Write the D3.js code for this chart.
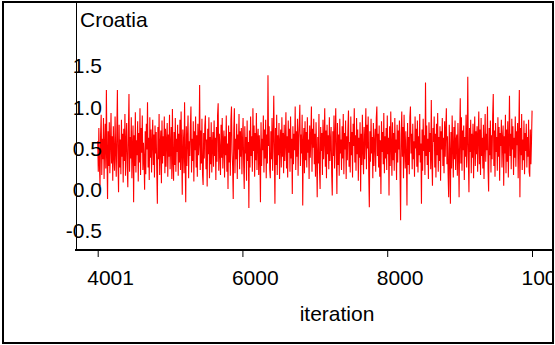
<!DOCTYPE html>
<html>
<head>
<meta charset="utf-8">
<script src="https://cdn.jsdelivr.net/npm/d3@7"></script>
<style>
  html, body { margin: 0; padding: 0; background: #fff; }
  svg { display: block; }
  text { font-family: "Liberation Sans", Arial, Helvetica, sans-serif; fill: #000; }
</style>
</head>
<body>
<svg id="chart" width="555" height="345"></svg>
<script>
// ---- data ----
const title = "Croatia";
const xLabel = "iteration";
const iterStart = 4001;      // first stored iteration
const iterThin = 8;          // iterations between the samples shown
const xTicks = [4001, 6000, 8000, 10000];
const yTicks = [-0.5, 0.0, 0.5, 1.0, 1.5];
const samples = [
  0.58,0.21,0.74,0.30,0.04,0.66,0.90,0.17,0.61,0.36,0.86,0.12,0.52,0.79,0.25,1.20,0.42,-0.12,0.70,0.28,
  0.81,0.19,0.55,0.92,0.31,0.64,0.10,0.76,0.40,0.22,0.88,0.47,0.15,0.69,1.20,0.33,-0.04,0.78,0.26,0.60,
  0.18,0.84,0.39,0.67,0.08,0.73,0.34,0.91,0.16,0.57,0.80,0.27,0.02,0.71,1.15,0.21,0.63,0.37,0.87,0.13,
  0.50,0.77,-0.16,0.65,0.28,0.93,0.20,0.59,0.41,0.82,0.09,0.68,0.32,0.98,0.17,0.74,0.44,0.89,0.23,0.56,
  0.35,-0.01,0.70,0.18,0.79,0.48,1.05,0.26,0.62,0.11,0.87,0.38,0.72,0.20,0.57,0.84,0.29,0.66,0.14,0.77,
  0.43,0.69,0.22,-0.18,0.75,0.36,0.91,0.17,0.54,0.71,0.07,0.83,0.31,0.64,0.40,0.88,0.19,0.73,0.27,0.59,
  0.80,0.15,0.66,0.39,0.90,0.24,0.53,0.75,0.12,0.97,0.35,0.10,0.69,0.29,0.86,0.21,0.61,0.45,0.78,0.16,
  0.67,0.32,0.84,0.23,0.94,0.43,-0.07,0.72,0.55,0.19,1.05,0.37,-0.16,0.76,0.28,0.63,0.89,0.13,0.58,0.40,
  0.74,1.00,0.20,0.61,0.34,0.82,0.09,0.70,0.47,0.88,0.26,0.65,0.15,0.79,0.41,0.57,1.26,0.23,0.71,0.31,
  0.85,0.18,0.05,0.68,0.37,0.77,0.89,0.24,0.60,0.03,0.73,0.42,0.87,0.13,0.63,0.30,0.81,0.20,0.54,0.69,
  0.27,0.83,0.40,0.62,0.11,0.75,0.33,0.90,1.04,0.22,0.67,0.47,0.17,0.78,0.38,0.86,0.25,0.58,0.71,0.14,
  0.64,0.41,0.89,0.21,0.55,0.00,0.77,0.32,0.69,0.16,0.84,1.00,0.45,0.27,-0.12,0.72,0.98,0.19,0.61,0.36,
  0.79,0.12,0.66,0.48,0.91,0.24,0.70,0.39,0.74,0.18,0.58,0.86,0.29,0.00,0.76,0.43,0.63,0.10,0.83,0.34,
  0.57,-0.23,0.71,0.26,0.88,0.40,0.64,0.21,0.98,0.46,0.77,0.15,0.68,0.35,0.92,0.23,0.59,0.73,0.17,0.65,
  0.42,-0.16,0.81,0.28,0.61,0.47,0.89,0.20,0.72,0.37,0.84,0.13,0.66,0.31,1.38,0.52,0.76,0.24,0.13,0.70,
  0.36,0.86,0.22,0.62,1.13,0.45,-0.18,0.74,0.29,0.90,0.17,0.65,0.41,0.80,0.12,0.58,0.72,0.26,0.87,0.39,
  0.68,0.19,0.78,0.34,0.57,0.93,0.25,0.64,0.14,0.83,0.44,0.73,0.21,0.88,0.37,0.61,-0.06,0.76,0.30,0.67,
  0.47,1.00,0.23,0.70,0.39,0.85,0.16,0.62,0.79,1.02,0.28,0.66,0.43,0.90,-0.20,0.56,0.74,0.19,0.82,0.35,
  0.69,0.26,0.87,0.44,0.60,0.12,0.77,0.38,0.64,1.00,0.21,0.73,0.50,0.85,0.30,0.67,0.15,0.81,0.41,-0.10,
  0.63,0.31,0.91,0.22,0.00,0.75,0.46,0.68,0.17,0.84,0.36,0.59,0.98,0.27,0.71,0.13,0.78,0.42,0.65,0.24,
  0.87,0.34,0.56,0.75,0.19,-0.08,0.70,0.40,0.89,0.25,0.62,0.98,0.45,-0.06,0.80,0.29,0.66,0.16,0.85,0.43,
  0.60,0.23,0.76,0.37,0.91,0.18,0.68,0.48,0.83,0.12,0.64,0.35,0.73,0.95,0.27,0.57,0.20,0.88,0.41,0.69,
  0.14,0.79,0.52,0.98,0.32,0.65,0.22,0.86,0.42,0.72,0.10,0.62,0.38,0.81,-0.03,0.67,0.29,0.90,0.47,0.18,
  0.75,0.36,0.61,0.98,0.24,0.78,0.49,0.88,0.17,-0.22,0.70,0.33,0.85,0.43,0.63,0.13,0.80,0.28,0.56,0.73,
  0.21,0.86,1.00,0.40,0.67,0.26,0.77,0.15,0.59,-0.06,0.82,0.45,0.69,0.30,0.92,0.19,0.64,0.37,0.74,0.23,
  0.89,0.42,0.62,-0.08,0.76,0.28,0.94,0.51,0.16,0.81,0.35,0.68,0.22,0.86,0.44,0.60,0.11,0.78,0.32,0.71,
  0.48,0.83,0.20,-0.38,0.65,0.94,0.39,0.75,0.13,0.90,0.53,0.25,0.70,0.40,-0.20,0.80,0.29,0.63,0.18,0.87,
  1.00,0.43,0.67,0.24,0.79,0.36,0.58,0.15,0.88,0.49,0.73,0.27,0.83,0.20,0.64,0.41,0.91,0.32,0.55,-0.18,
  0.72,0.22,0.85,0.46,0.65,0.17,1.29,0.40,0.77,0.29,0.61,0.12,0.81,0.45,0.68,0.24,1.08,0.37,0.04,0.74,
  0.57,0.88,0.26,0.67,0.14,0.79,0.41,0.92,0.21,0.63,0.34,0.76,0.10,0.70,0.48,0.86,0.28,0.62,0.19,0.82,
  0.39,0.72,0.98,0.30,0.64,0.18,-0.10,0.78,0.44,-0.18,0.69,0.25,0.89,0.51,0.14,0.75,0.36,0.83,0.23,0.60,
  0.66,0.16,0.80,0.42,-0.10,0.62,1.10,0.31,0.87,0.22,0.71,0.47,0.77,0.11,0.63,0.39,0.90,0.26,0.58,1.36,
  0.35,-0.04,0.74,0.45,0.84,0.19,0.67,0.38,0.79,0.13,0.61,0.88,0.28,0.70,0.42,0.76,0.21,0.64,0.94,0.30,
  0.72,0.17,0.86,0.40,0.62,0.25,0.78,0.12,0.56,0.91,0.33,0.67,0.47,1.00,0.23,-0.03,0.74,0.41,0.83,0.20,
  0.65,0.36,0.89,1.15,0.28,0.71,0.15,0.80,0.45,0.63,0.22,0.87,0.39,0.75,0.10,0.68,0.52,0.84,0.26,0.61,
  0.77,0.04,0.64,0.43,0.90,0.19,0.72,0.33,0.82,0.14,0.57,1.13,0.40,0.67,0.24,0.85,0.48,0.76,0.17,0.62,
  0.38,0.88,0.27,0.70,0.53,0.80,0.13,0.65,1.20,-0.10,0.74,0.41,0.91,0.23,0.60,0.35,0.83,0.18,0.68,0.46,
  0.79,0.26,0.63,0.39,0.84,0.21,0.15,0.72,0.30,0.58,0.95
];

// ---- drawing ----
const svg = d3.select("#chart");
const W = 555, H = 345;

const x = d3.scaleLinear().domain([4001, 10000]).range([97.7, 532]);
const y = d3.scaleLinear().domain([-0.5, 1.5]).range([230.25, 65.25]);

const defs = svg.append("defs");
defs.append("clipPath").attr("id", "frame")
  .append("rect").attr("x", 0).attr("y", 0).attr("width", 552).attr("height", H);

const root = svg.append("g").attr("clip-path", "url(#frame)");

// trace line
const pts = samples.map((v, i) => ({ it: iterStart + i * iterThin, v }));
root.append("path")
  .datum(pts)
  .attr("fill", "none")
  .attr("stroke", "#ff0000")
  .attr("stroke-width", 1.1)
  .attr("d", d3.line().x(d => x(d.it)).y(d => y(d.v)));

// y axis (labels drawn over the axis line, right-aligned)
const yAxis = d3.axisLeft(y).tickValues(yTicks).tickSize(0).tickPadding(-26)
  .tickFormat(d => d.toFixed(1));
const gy = root.append("g").attr("transform", "translate(76,0)").call(yAxis);
gy.select(".domain").remove();
gy.selectAll("text")
  .attr("dy", "0.36em")
  .style("font-family", '"Liberation Sans", Arial, sans-serif')
  .style("font-size", "21px").attr("fill", "#000");

root.append("line")
  .attr("x1", 76.5).attr("x2", 76.5).attr("y1", 2).attr("y2", 250)
  .attr("stroke", "#000").attr("stroke-width", 1);

// x axis
const xAxis = d3.axisBottom(x).tickValues(xTicks).tickSizeInner(7).tickSizeOuter(0)
  .tickPadding(13).tickFormat(d3.format("d"));
const gx = root.append("g").attr("transform", "translate(0,250)").call(xAxis);
gx.select(".domain").remove();
gx.selectAll(".tick line").attr("stroke", "#000").attr("stroke-width", 1);
gx.selectAll("text")
  .attr("text-anchor", "start").attr("x", -11).attr("dy", "0.71em")
  .style("font-family", '"Liberation Sans", Arial, sans-serif')
  .style("font-size", "21px").attr("fill", "#000");

root.append("line")
  .attr("x1", 75).attr("x2", 555).attr("y1", 250).attr("y2", 250)
  .attr("stroke", "#000").attr("stroke-width", 2);

// titles
root.append("text").attr("x", 80).attr("y", 27)
  .style("font-size", "21px").text(title);
root.append("text").attr("x", 337).attr("y", 321).attr("text-anchor", "middle")
  .style("font-size", "21px").text(xLabel);

// outer frame
svg.append("rect")
  .attr("x", 3).attr("y", 2).attr("width", 550).attr("height", 341)
  .attr("fill", "none").attr("stroke", "#000").attr("stroke-width", 2);
</script>
</body>
</html>
